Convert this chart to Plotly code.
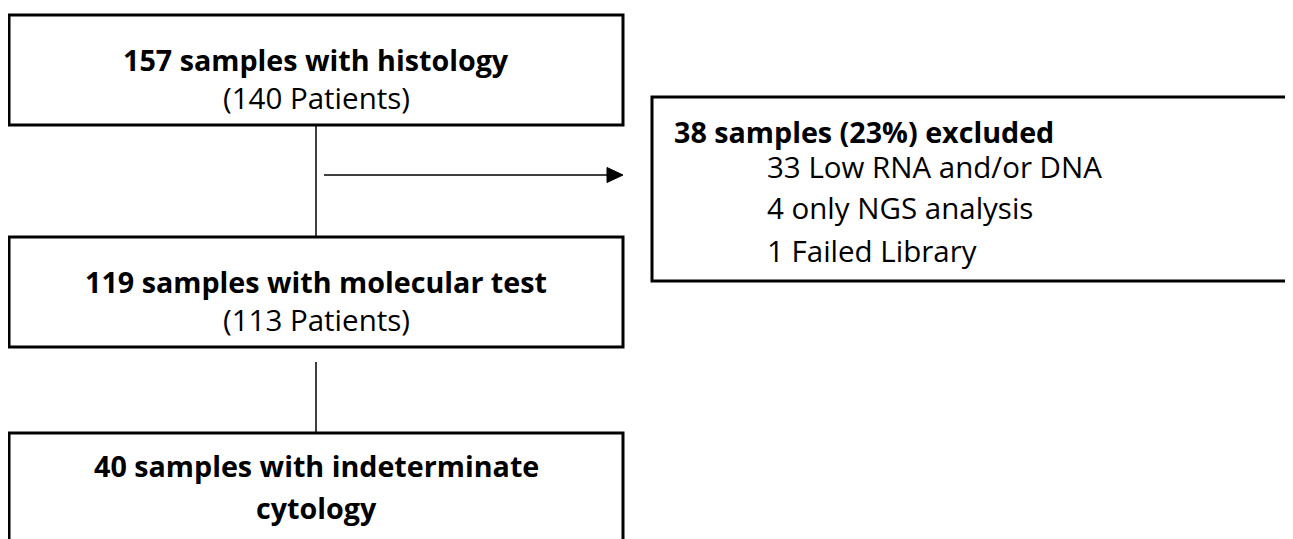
import plotly.graph_objects as go

# Flowchart content
box_titles = ["157 samples with histology", "119 samples with molecular test",
              "40 samples with indeterminate", "cytology"]
box_subtitles = ["(140 Patients)", "(113 Patients)"]
excl_title = "38 samples (23%) excluded"
excl_items = ["33 Low RNA and/or DNA", "4 only NGS analysis", "1 Failed Library"]

W, H = 1293, 539
OFF = 8  # page body margin
FONT = "Open Sans"
BOLD_SIZE = 28.7
REG_SIZE = 29.5
fig = go.Figure()

# main boxes (x0, y0, x1, y1) in screen pixels
main_boxes = [(9, 15, 623, 125), (9, 237, 623, 347), (9, 433, 623, 600)]
shapes = []
for (x0, y0, x1, y1) in main_boxes:
    shapes.append(dict(type="rect", x0=x0, y0=y0, x1=x1, y1=y1,
                       line=dict(color="black", width=3), fillcolor="white", layer="below"))
# exclusion box
shapes.append(dict(type="rect", x0=652, y0=97, x1=1320, y1=281,
                   line=dict(color="black", width=3), fillcolor="white", layer="below"))
# connectors
shapes.append(dict(type="line", x0=316, y0=125, x1=316, y1=237, line=dict(color="black", width=1.5)))
shapes.append(dict(type="line", x0=316, y0=362, x1=316, y1=433, line=dict(color="black", width=1.5)))
shapes.append(dict(type="line", x0=324, y0=175, x1=610, y1=175, line=dict(color="black", width=1.5)))
shapes.append(dict(type="path", path="M 607 167.5 L 623 175 L 607 182.5 Z",
                   fillcolor="black", line=dict(color="black", width=1)))
# clip band hiding the bottom of the last exclusion line
shapes.append(dict(type="rect", x0=655, y0=271, x1=1320, y1=279, fillcolor="white",
                   line=dict(width=0), layer="above"))

ann = []
cx = 316
title_y = [59, 281, 465, 507]
for t, y in zip(box_titles, title_y):
    ann.append(dict(x=cx, y=y, text="<b>" + t + "</b>", showarrow=False,
                    font=dict(family=FONT, size=BOLD_SIZE, color="black"),
                    xanchor="center", yanchor="middle"))
sub_y = [97, 319]
for t, y in zip(box_subtitles, sub_y):
    ann.append(dict(x=cx, y=y, text=t, showarrow=False,
                    font=dict(family=FONT, size=REG_SIZE, color="black"),
                    xanchor="center", yanchor="middle"))

ann.append(dict(x=672, y=131, text="<b>" + excl_title + "</b>", showarrow=False,
                font=dict(family=FONT, size=BOLD_SIZE, color="black"),
                xanchor="left", yanchor="middle"))

# exclusion items as a text trace so they can be clipped by the white band
item_x = [767] * len(excl_items)
item_y = [171, 212, 255]
fig.add_trace(go.Scatter(x=item_x, y=item_y, text=excl_items, mode="text",
                         textposition="middle right",
                         textfont=dict(family=FONT, size=REG_SIZE, color="black"),
                         hoverinfo="skip", showlegend=False, cliponaxis=False))

fig.update_layout(
    width=W, height=H, margin=dict(l=0, r=0, t=0, b=0),
    paper_bgcolor="white", plot_bgcolor="white",
    xaxis=dict(range=[OFF, W + OFF], visible=False, fixedrange=True),
    yaxis=dict(range=[H + OFF, OFF], visible=False, fixedrange=True),
    shapes=shapes, annotations=ann, showlegend=False,
)
fig.write_html("out.html")
